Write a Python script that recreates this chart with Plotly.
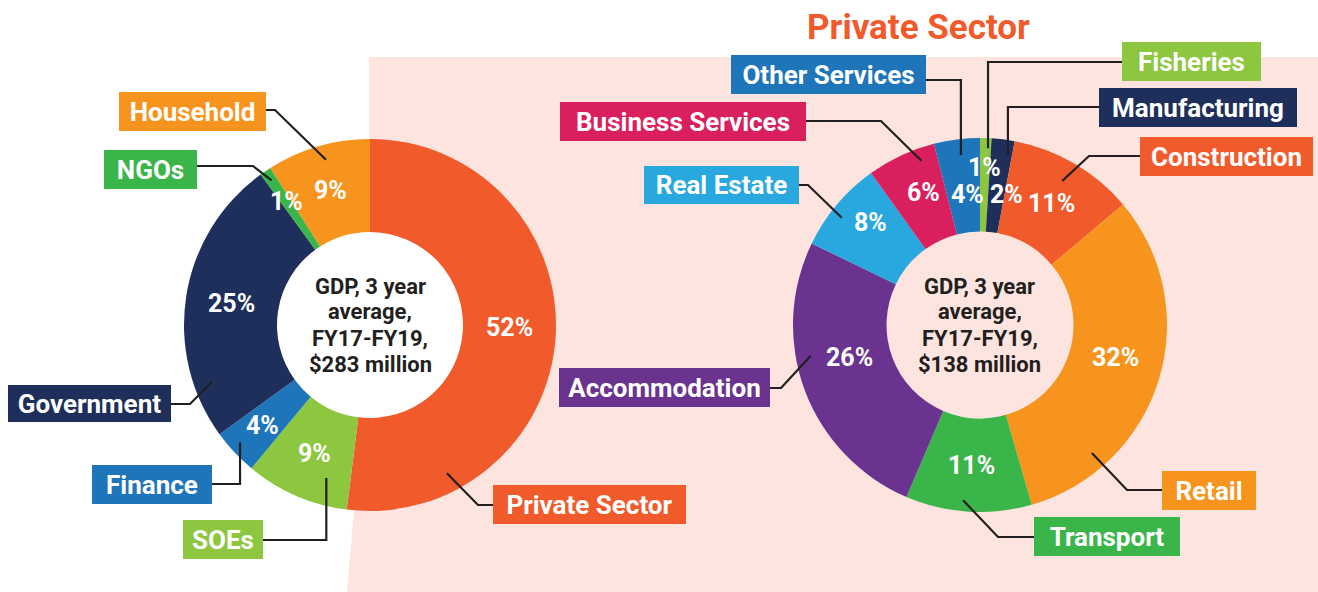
import math
import plotly.graph_objects as go

# ---------------- data ----------------
overall_labels = ["Private Sector", "SOEs", "Finance", "Government", "NGOs", "Household"]
overall_values = [52, 9, 4, 25, 1, 9]
overall_colors = ["#F15A2B", "#8DC63F", "#1F75BA", "#1F2F5C", "#3AB54A", "#F7941D"]

private_labels = ["Fisheries", "Manufacturing", "Construction", "Retail", "Transport",
                  "Accommodation", "Real Estate", "Business Services", "Other Services"]
private_values = [1, 2, 11, 32, 11, 26, 8, 6, 4]
private_colors = ["#8DC63F", "#1F2F5C", "#F15A2B", "#F7941D", "#3AB54A",
                  "#6A338F", "#29A8E0", "#DA1F5E", "#1F75BA"]

center_left = ["GDP, 3 year", "average,", "FY17-FY19,", "$283 million"]
center_right = ["GDP, 3 year", "average,", "FY17-FY19,", "$138 million"]
title_text = "Private Sector"

# ---------------- layout config (pixels in the 1318x592 page) ----------------
W, H = 1318, 592
FONT = "Roboto"
DARK = "#231F20"
PINK = "#FDE4DF"
HOLE = 0.5
LEFT = dict(cx=370, cy=325, R=186)
RIGHT = dict(cx=980, cy=325, R=187)

# callouts: label -> (box edge x, box centre y, line y, box width, box height,
#                     box side, elbow x (None = vertical leg), fraction in slice, anchor radius)
callouts_left = {
    "Household":      (266, 111.5, 110, 147, 39, "left", 275, 0.54, 171),
    "NGOs":           (197, 169.5, 166, 93, 39, "left", 253, 0.5, 175),
    "Government":     (171, 403.5, 404, 163, 37, "left", 190, 0.18, 168),
    "Finance":        (212, 484.5, 484, 120, 39, "left", None, 0.58, 175),
    "SOEs":           (263, 539.5, 540, 80, 39, "left", None, 0.27, 159),
    "Private Sector": (493, 504.5, 505, 193, 39, "right", 478, 0.815, 167),
}
callouts_right = {
    "Fisheries":         (1122, 61.5, 62, 139, 39, "right", None, 0.73, 177),
    "Manufacturing":     (1099, 107.5, 107, 198, 39, "right", None, 0.81, 172),
    "Construction":      (1140, 156.5, 156, 173, 39, "right", 1089, 0.485, 166),
    "Other Services":    (926, 74.5, 80, 195, 39, "left", None, 0.55, 171),
    "Business Services": (806, 121.5, 121, 246, 39, "left", 881, 0.75, 174),
    "Real Estate":       (799, 185, 185, 155, 38, "left", 808, 0.42, 175),
    "Accommodation":     (770, 387.5, 388, 211, 39, "left", 781, 0.61, 172),
    "Retail":            (1162, 490.5, 490, 94, 39, "right", 1127, 0.78, 170),
    "Transport":         (1034, 536.5, 537, 146, 39, "right", 998, 0.55, 176),
}
# percentage label tweaks: label -> (angle offset deg, radius fraction)
pct_left = {"NGOs": (0, 0.80), "Finance": (0, 0.79), "Private Sector": (-2.5, 0.75)}
pct_right = {"Fisheries": (0, 0.84), "Manufacturing": (4.5, 0.71), "Other Services": (1.8, 0.70),
             "Real Estate": (3, 0.80), "Business Services": (2, 0.77),
             "Accommodation": (6.5, 0.72), "Retail": (-3.6, 0.745)}


def px(x, y):
    """page pixel -> paper coordinate"""
    return x / W, 1 - y / H


def slice_angles(values):
    total = float(sum(values))
    out, c = [], 0.0
    for v in values:
        a0 = c / total * 360
        c += v
        out.append((a0, c / total * 360))
    return out


def polar(cx, cy, r, ang):
    t = math.radians(ang)
    return cx + r * math.sin(t), cy - r * math.cos(t)


def domain(d):
    x0, y0 = px(d["cx"] - d["R"], d["cy"] + d["R"])
    x1, y1 = px(d["cx"] + d["R"], d["cy"] - d["R"])
    return dict(x=[x0, x1], y=[y0, y1])


fig = go.Figure()
for labels, values, colors, d in [(overall_labels, overall_values, overall_colors, LEFT),
                                  (private_labels, private_values, private_colors, RIGHT)]:
    fig.add_trace(go.Pie(
        labels=labels, values=values, sort=False, direction="clockwise", rotation=0,
        hole=HOLE, domain=domain(d), textinfo="none", showlegend=False,
        marker=dict(colors=colors, line=dict(width=0)),
        hovertemplate="%{label}: %{value}%<extra></extra>",
    ))

shapes, annotations = [], []

# pink background panel
pts = [(369, 57), (W, 57), (W, H), (347, H), (354, 510), (369, 140)]
path = "M " + " L ".join("%f,%f" % px(x, y) for x, y in pts) + " Z"
shapes.append(dict(type="path", path=path, xref="paper", yref="paper",
                   fillcolor=PINK, line=dict(width=0), layer="below"))
# white hole behind left donut
rin = LEFT["R"] * HOLE
x0, y0 = px(LEFT["cx"] - rin, LEFT["cy"] + rin)
x1, y1 = px(LEFT["cx"] + rin, LEFT["cy"] - rin)
shapes.append(dict(type="circle", xref="paper", yref="paper", x0=x0, y0=y0, x1=x1, y1=y1,
                   fillcolor="white", line=dict(width=0), layer="below"))

for labels, values, colors, d, callouts, pcts, centre in [
        (overall_labels, overall_values, overall_colors, LEFT, callouts_left, pct_left, center_left),
        (private_labels, private_values, private_colors, RIGHT, callouts_right, pct_right, center_right)]:
    angs = slice_angles(values)
    for lab, val, col, (a0, a1) in zip(labels, values, colors, angs):
        # percentage label
        da, rf = pcts.get(lab, (0, 0.755))
        tx, ty = polar(d["cx"], d["cy"], d["R"] * rf, (a0 + a1) / 2 + da)
        xx, yy = px(tx, ty)
        annotations.append(dict(x=xx, y=yy, xref="paper", yref="paper", text="%d%%" % val,
                                showarrow=False, xanchor="center", yanchor="middle",
                                font=dict(family=FONT, size=25, color="white", weight=700)))
        # callout leader + box
        ex, by, ly, bw, bh, side, elbow, f, r = callouts[lab]
        ax, ay = polar(d["cx"], d["cy"], r, a0 + f * (a1 - a0))
        exx = ax if elbow is None else elbow
        p = [(ax, ay), (exx, ly), (ex, ly)]
        path = "M " + " L ".join("%f,%f" % px(x, y) for x, y in p)
        shapes.append(dict(type="path", path=path, xref="paper", yref="paper",
                           line=dict(color=DARK, width=2.2), layer="above"))
        bx, byy = px(ex, by)
        annotations.append(dict(x=bx, y=byy, xref="paper", yref="paper", text=lab,
                                showarrow=False, xanchor="right" if side == "left" else "left",
                                yanchor="middle", width=bw, height=bh, borderpad=0, borderwidth=0,
                                bgcolor=col, align="center", valign="middle",
                                font=dict(family=FONT, size=26, color="white", weight=700)))
    # centre text
    for i, line in enumerate(centre):
        cx, cy = px(d["cx"], d["cy"] - 39 + 26 * i)
        annotations.append(dict(x=cx, y=cy, xref="paper", yref="paper", text=line,
                                showarrow=False, xanchor="center", yanchor="middle",
                                font=dict(family=FONT, size=22, color=DARK, weight=700)))

tx, ty = px(918, 28)
annotations.append(dict(x=tx, y=ty, xref="paper", yref="paper", text=title_text,
                        showarrow=False, xanchor="center", yanchor="middle",
                        font=dict(family=FONT, size=35, color="#F15A2B", weight=700)))

fig.update_layout(width=W, height=H, margin=dict(l=0, r=0, t=0, b=0),
                  paper_bgcolor="white", plot_bgcolor="white",
                  shapes=shapes, annotations=annotations)
fig.write_html("out.html", config={"displayModeBar": False},
               post_script="document.body.style.margin='0';document.body.style.overflow='hidden';")
